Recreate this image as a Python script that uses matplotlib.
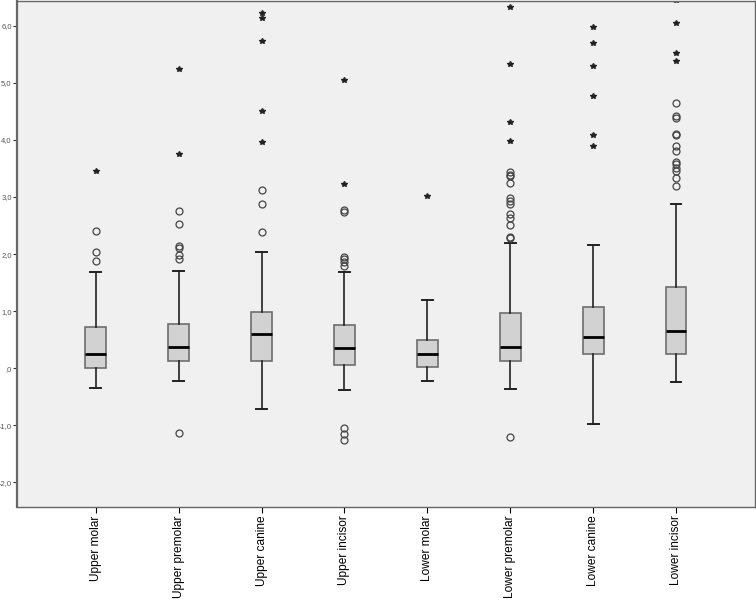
import matplotlib
matplotlib.use("Agg")
import matplotlib.pyplot as plt

plt.rcParams['font.family'] = ['Liberation Sans', 'DejaVu Sans']

# teeth groups
categories = ["Upper molar", "Upper premolar", "Upper canine", "Upper incisor",
              "Lower molar", "Lower premolar", "Lower canine", "Lower incisor"]

# box statistics
whisker_low = [-0.34, -0.23, -0.72, -0.385, -0.23, -0.36, -0.97, -0.24]
q1 = [0.0, 0.12, 0.13, 0.063, 0.02, 0.12, 0.25, 0.245]
median = [0.245, 0.37, 0.595, 0.36, 0.25, 0.37, 0.55, 0.65]
q3 = [0.72, 0.78, 0.99, 0.75, 0.50, 0.96, 1.07, 1.42]
whisker_high = [1.68, 1.71, 2.04, 1.69, 1.20, 2.19, 2.16, 2.87]

# outliers (circles) and extremes (stars)
outliers = [
    [2.41, 2.03, 1.88],
    [2.75, 2.53, 2.15, 2.10, 1.98, 1.92, -1.14],
    [3.12, 2.87, 2.39],
    [2.78, 2.73, 1.955, 1.91, 1.86, 1.80, -1.05, -1.16, -1.26],
    [],
    [3.44, 3.39, 3.36, 3.25, 2.99, 2.93, 2.87, 2.70, 2.64, 2.51, 2.30, 2.28, -1.21],
    [],
    [4.65, 4.42, 4.39, 4.10, 4.08, 3.90, 3.81, 3.61, 3.58, 3.50, 3.455, 3.34, 3.20],
]
extremes = [
    [3.455],
    [5.24, 3.75],
    [6.23, 6.14, 5.73, 4.50, 3.96],
    [5.05, 3.23],
    [3.02],
    [6.33, 5.33, 4.31, 3.975],
    [5.97, 5.70, 5.29, 4.77, 4.08, 3.90],
    [6.45, 6.04, 5.52, 5.38],
]

y_ticks = [-2, -1, 0, 1, 2, 3, 4, 5, 6]
y_labels = ["-2,0", "-1,0", ",0", "1,0", "2,0", "3,0", "4,0", "5,0", "6,0"]

fig = plt.figure(figsize=(7.56, 6.0), dpi=100)
ax = fig.add_axes([0.0225, 0.155, 0.976, 0.843])
ax.set_facecolor("#F0F0F0")

stats = []
for i in range(len(categories)):
    stats.append({"whislo": whisker_low[i], "q1": q1[i], "med": median[i],
                  "q3": q3[i], "whishi": whisker_high[i], "fliers": outliers[i],
                  "label": categories[i]})

positions = list(range(1, len(categories) + 1))
ax.bxp(stats, positions=positions, widths=0.25, capwidths=0.13, patch_artist=True,
       showfliers=True,
       boxprops=dict(facecolor="#D2D2D2", edgecolor="#6E6E6E", linewidth=1.2),
       medianprops=dict(color="black", linewidth=2.0),
       whiskerprops=dict(color="#222222", linewidth=1.2),
       capprops=dict(color="#222222", linewidth=1.4),
       flierprops=dict(marker="o", markersize=5, markerfacecolor="none",
                       markeredgecolor="#444444", markeredgewidth=0.9,
                       linestyle="none"))

for pos, ext in zip(positions, extremes):
    ax.plot([pos] * len(ext), ext, linestyle="none", marker="*", markersize=3.8,
            color="#222222")

ax.set_xlim(0.05, 8.95)
ax.set_ylim(-2.43, 6.43)
ax.set_yticks(y_ticks)
ax.set_yticklabels(y_labels, fontsize=5.5, color="#555555")
ax.set_xticks(positions)
ax.set_xticklabels(categories, rotation=90, fontsize=8.6)
ax.tick_params(axis="y", length=3, width=0.8, pad=0.8, color="#333333")
ax.tick_params(axis="x", length=4, width=0.8, pad=2, colors="black")

for s in ax.spines.values():
    s.set_color("#666666")
    s.set_linewidth(1.0)
ax.spines["left"].set_linewidth(1.6)

fig.savefig("out.png", dpi=100, facecolor="white")
